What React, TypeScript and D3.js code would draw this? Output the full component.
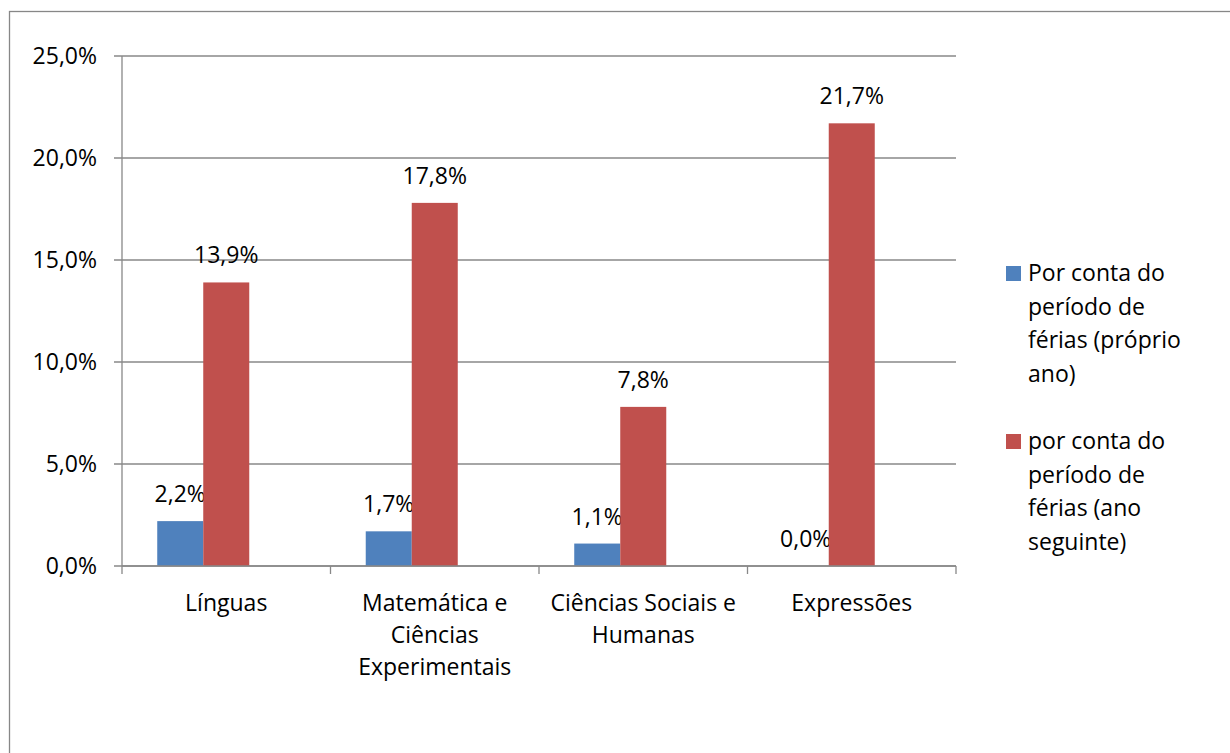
import * as React from "react"
import * as d3 from "d3"

const categories = ["Línguas", "Matemática e Ciências Experimentais", "Ciências Sociais e Humanas", "Expressões"]
const categoryLines = [["Línguas"], ["Matemática e", "Ciências", "Experimentais"], ["Ciências Sociais e", "Humanas"], ["Expressões"]]
const proprioAno = [2.2, 1.7, 1.1, 0.0]
const anoSeguinte = [13.9, 17.8, 7.8, 21.7]
const seriesNames = ["Por conta do período de férias (próprio ano)", "por conta do período de férias (ano seguinte)"]
const legendLines = [
  ["Por conta do", "período de", "férias (próprio", "ano)"],
  ["por conta do", "período de", "férias (ano", "seguinte)"],
]
const seriesColors = ["#4F81BD", "#C0504D"]
const yTicks = [0, 5, 10, 15, 20, 25]
// the source workbook reserves a third (empty) bar slot per category
const slots = ["s0", "s1", "s2"]

const W = 1230
const H = 753
const FONT = "'Open Sans', 'Noto Sans', sans-serif"
const FS = 23

const fmt = (v: number) => v.toFixed(1).replace(".", ",") + "%"

export default function App() {
  const left = 122
  const right = 956
  const top = 56
  const bottom = 566

  const y = d3.scaleLinear().domain([0, 25]).range([bottom, top])
  const x = d3.scaleBand<string>().domain(categories).range([left, right]).paddingInner(0.338).paddingOuter(0.169)
  const xs = d3.scaleBand<string>().domain(slots).range([0, x.bandwidth()])
  const step = x.step()
  const series = [proprioAno, anoSeguinte]
  const gridColor = "#888888"

  return (
    <svg width={W} height={H} style={{ position: "absolute", left: 0, top: 0 }} fontFamily={FONT}>
      <rect x={0} y={0} width={W} height={H} fill="#fff" />
      <rect x={9.5} y={11.5} width={W + 100} height={H + 100} fill="none" stroke="#878787" strokeWidth={1.3} />

      {/* gridlines + y ticks */}
      {yTicks.map((t) => (
        <g key={t}>
          <line x1={left - 8} x2={right} y1={y(t)} y2={y(t)} stroke={gridColor} strokeWidth={1.3} />
          <text x={97} y={y(t)} dy="0.35em" textAnchor="end" fontSize={FS} fill="#000">
            {fmt(t)}
          </text>
        </g>
      ))}
      <line x1={left} x2={left} y1={top} y2={bottom} stroke={gridColor} strokeWidth={1.3} />

      {/* x ticks at category boundaries */}
      {d3.range(categories.length + 1).map((i) => {
        const xx = left + i * step
        return <line key={i} x1={xx} x2={xx} y1={bottom} y2={bottom + 8} stroke={gridColor} strokeWidth={1.3} />
      })}

      {/* bars */}
      {series.map((vals, si) =>
        categories.map((c, ci) => {
          const bx = (x(c) ?? 0) + (xs(slots[si]) ?? 0)
          const bw = xs.bandwidth()
          const v = vals[ci]
          return (
            <g key={`${si}-${ci}`}>
              <rect x={bx} y={y(v)} width={bw} height={bottom - y(v)} fill={seriesColors[si]} />
              <text x={bx + bw / 2} y={y(v) - 27} dy="0.35em" textAnchor="middle" fontSize={FS} fill="#000">
                {fmt(v)}
              </text>
            </g>
          )
        })
      )}
      <line x1={left} x2={right} y1={bottom} y2={bottom} stroke={gridColor} strokeWidth={1.3} />

      {/* category labels */}
      {categories.map((c, ci) => (
        <text key={c} x={left + (ci + 0.5) * step} y={603} textAnchor="middle" fontSize={FS} fill="#000">
          {categoryLines[ci].map((ln, li) => (
            <tspan key={li} x={left + (ci + 0.5) * step} y={603 + li * 32} dy="0.35em">
              {ln}
            </tspan>
          ))}
        </text>
      ))}

      {/* legend */}
      {seriesNames.map((name, si) => {
        const ly = 273 + si * 168
        return (
          <g key={name}>
            <rect x={1006} y={ly - 7} width={15} height={15} fill={seriesColors[si]} />
            <text fontSize={FS} fill="#000">
              {legendLines[si].map((ln, li) => (
                <tspan key={li} x={1028} y={ly + li * 33.5} dy="0.35em">
                  {ln}
                </tspan>
              ))}
            </text>
          </g>
        )
      })}
    </svg>
  )
}
